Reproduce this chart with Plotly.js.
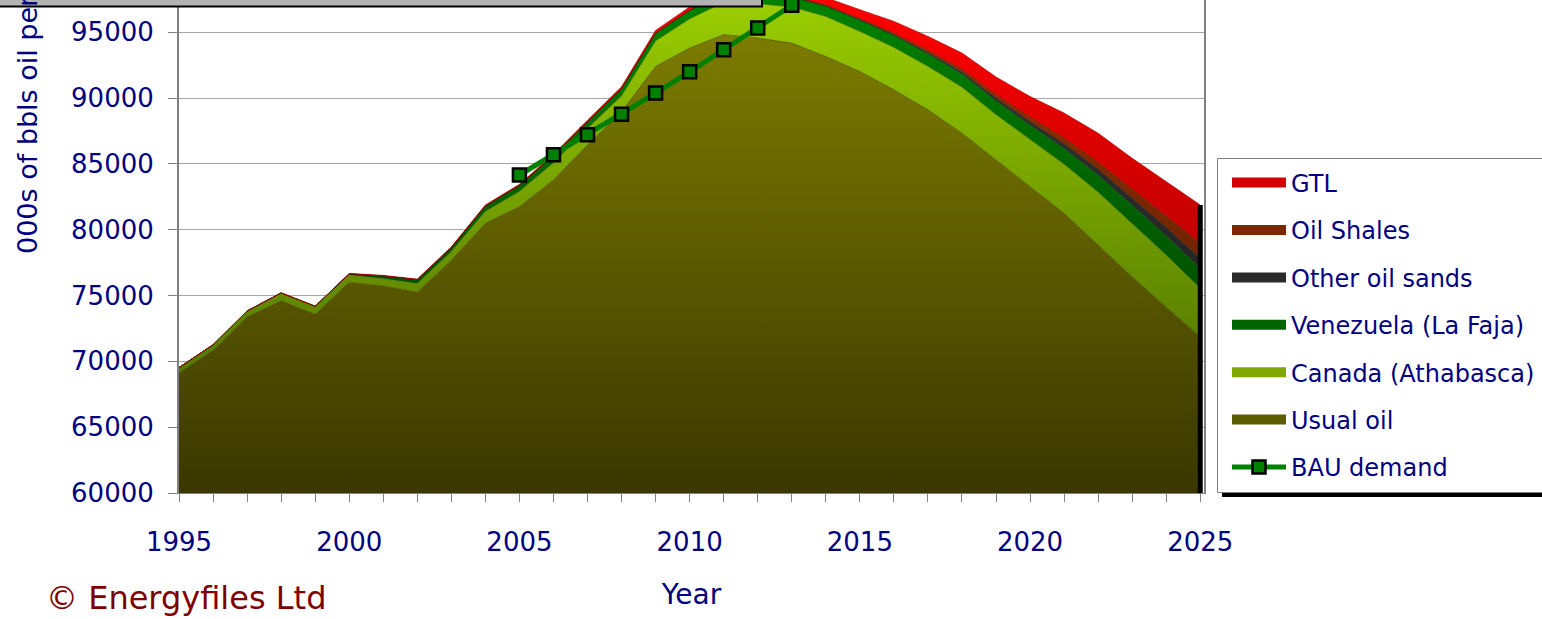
<!DOCTYPE html>
<html><head><meta charset="utf-8">
<script src="https://cdn.plot.ly/plotly-3.0.1.min.js"></script>
<style>html,body{margin:0;padding:0;background:#fff}#chart{width:1542px;height:619px}</style>
</head><body><div id="chart"></div>
<script>
const years = [1995,1996,1997,1998,1999,2000,2001,2002,2003,2004,2005,2006,2007,2008,2009,2010,2011,2012,2013,2014,2015,2016,2017,2018,2019,2020,2021,2022,2023,2024,2025];
const usualOil = [69120,70840,73380,74600,73580,76020,75720,75260,77690,80490,81750,83780,86450,88960,92400,93800,94820,94570,94180,93160,92020,90630,89110,87340,85300,83270,81250,78840,76420,74140,71860];
const canada = [410,420,450,600,590,530,550,640,640,900,1150,1300,1250,1200,1940,2220,2450,2600,2750,3040,3050,3220,3300,3490,3440,3570,3720,4000,4030,3920,3680];
const venezuela = [0,0,0,0,20,100,220,300,310,420,470,550,500,550,600,650,680,720,760,800,850,900,950,1000,1050,1100,1200,1300,1400,1460,1520];
const otherOilSands = [0,0,0,0,0,0,0,0,0,0,0,0,0,0,0,0,0,0,0,0,30,60,100,150,210,280,360,450,550,650,760];
const oilShales = [0,0,0,0,0,0,0,0,0,0,0,0,0,0,0,0,20,30,50,70,90,120,160,210,270,340,430,540,680,880,1140];
const gtl = [0,0,0,0,0,30,40,50,60,70,80,100,120,150,200,250,320,400,480,560,680,900,1070,1230,1330,1560,1900,2200,2350,2600,2920];
const bauYears = [2005,2006,2007,2008,2009,2010,2011,2012,2013];
const bauDemand = [84160,85690,87210,88780,90380,92000,93680,95330,97050];

const AX = '#000080';
const FONT = 'DejaVu Sans';
const Y0 = 60000, YTOP = 97454;

function area(name, ys, dark, light, edge) {
  return {type:'scatter', mode:'lines', x:years, y:ys, stackgroup:'one', name:name, showlegend:false,
    line:{color:edge, width:0.7}, fillcolor:light,
    fillgradient:{type:'vertical', start:Y0, stop:97000, colorscale:[[0,dark],[1,light]]},
    hoverinfo:'skip'};
}
function legendEntry(name, color, g) {
  return {type:'scatter', mode:'lines', x:[null], y:[null], name:name, legendgroup:g,
    line:{color:color, width:16}, showlegend:true, hoverinfo:'skip'};
}
const last = years.length - 1;
const total2025 = usualOil[last]+canada[last]+venezuela[last]+otherOilSands[last]+oilShales[last]+gtl[last];

const traces = [
  area('Usual oil', usualOil, '#3a3700', '#808000', '#4a4a00'),
  area('Canada (Athabasca)', canada, '#3d5e00', '#99cc00', '#557700'),
  area('Venezuela (La Faja)', venezuela, '#003300', '#008000', '#004d00'),
  area('Other oil sands', otherOilSands, '#1a1a1a', '#333333', '#202020'),
  area('Oil Shales', oilShales, '#4a1500', '#993300', '#5a1a00'),
  area('GTL', gtl, '#800000', '#ff0000', '#b00000'),
  {type:'scatter', mode:'lines', x:[years[last], years[last]], y:[Y0, total2025], showlegend:false,
    line:{color:'#000000', width:5}, hoverinfo:'skip'},
  legendEntry('GTL', '#d40000', 'g1'),
  legendEntry('Oil Shales', '#7a2800', 'g2'),
  legendEntry('Other oil sands', '#2a2a2a', 'g3'),
  legendEntry('Venezuela (La Faja)', '#006400', 'g4'),
  legendEntry('Canada (Athabasca)', '#7fa800', 'g5'),
  legendEntry('Usual oil', '#5e5c00', 'g6'),
  {type:'scatter', mode:'lines+markers', x:bauYears, y:bauDemand, name:'BAU demand', legendgroup:'g7',
    line:{color:'#008000', width:5},
    marker:{symbol:'square', size:13, color:'#008000', line:{color:'#000000', width:2.5}},
    hoverinfo:'skip'}
];

const L = 179, R = 338, T = 0, B = 126, W = 1542, H = 619;
const PW = W - L - R, PH = H - T - B;
const px = x => (x - L) / PW;
const py = y => (T + PH - y) / PH;

const layout = {
  width:W, height:H,
  margin:{l:L, r:R, t:T, b:B, autoexpand:false},
  paper_bgcolor:'#ffffff', plot_bgcolor:'#ffffff',
  showlegend:true,
  xaxis:{range:[1995, 2025.11], tick0:1995, dtick:5, ticks:'outside', ticklen:8, tickcolor:'#808080', tickwidth:1,
    showline:true, linecolor:'#808080', linewidth:1, showgrid:false, zeroline:false,
    tickfont:{family:FONT, size:26, color:AX}, ticklabelstandoff:18,
    minor:{dtick:1, ticks:'outside', ticklen:8, tickcolor:'#808080', tickwidth:1, showgrid:false},
    title:{text:'Year', font:{family:FONT, size:28, color:AX}, standoff:28}},
  yaxis:{range:[Y0, YTOP], tick0:60000, dtick:5000, tickformat:'d', ticks:'outside', ticklen:9, tickcolor:'#808080',
    showline:true, linecolor:'#808080', linewidth:2, mirror:true, showgrid:true, gridcolor:'#a6a6a6', gridwidth:1,
    zeroline:false, tickfont:{family:FONT, size:26, color:AX}, ticklabelstandoff:9},
  legend:{x:px(1227), xanchor:'left', y:py(160.5), yanchor:'top', bgcolor:'rgba(0,0,0,0)', borderwidth:0,
    font:{family:FONT, size:24, color:AX}, itemwidth:54, traceorder:'grouped', tracegroupgap:13.2},
  annotations:[
    {text:'000s of bbls oil per day', textangle:-90, xref:'paper', yref:'paper', x:px(27), y:py(256),
      xanchor:'center', yanchor:'bottom', showarrow:false, font:{family:FONT, size:27, color:AX}},
    {text:'© Energyfiles Ltd', xref:'paper', yref:'paper', x:px(186), y:py(598), xanchor:'center', yanchor:'middle',
      showarrow:false, font:{family:FONT, size:32, color:'#800000'}}
  ],
  shapes:[
    {type:'rect', xref:'paper', yref:'paper', x0:px(-20), x1:px(762), y0:py(6.5), y1:py(-30),
      fillcolor:'#b3b3b3', line:{color:'#000000', width:2}, layer:'above'},
    {type:'rect', xref:'paper', yref:'paper', x0:px(1222), x1:px(1600), y0:py(497), y1:py(492),
      fillcolor:'#000000', line:{width:0}, layer:'above'},
    {type:'rect', xref:'paper', yref:'paper', x0:px(1217.5), x1:px(1600), y0:py(492.5), y1:py(158.5),
      fillcolor:'#ffffff', line:{color:'#808080', width:1}, layer:'above'}
  ]
};
Plotly.newPlot('chart', traces, layout, {staticPlot:true, displayModeBar:false});
</script></body></html>
